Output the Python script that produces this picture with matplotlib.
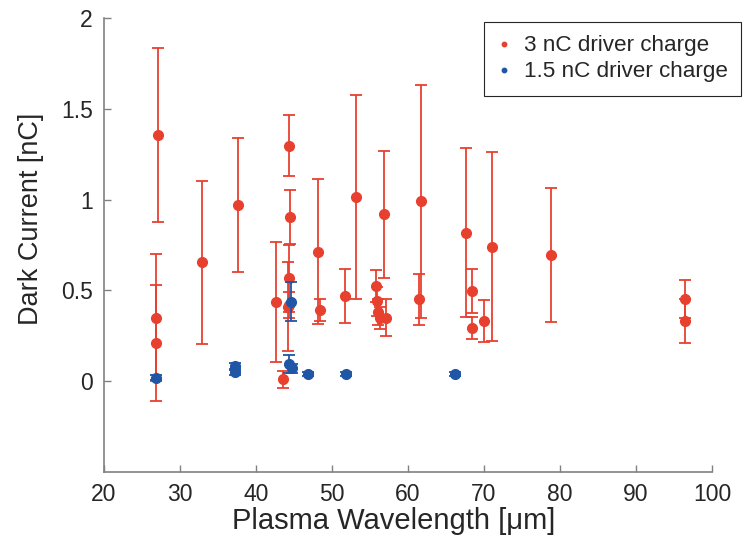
import numpy as np
import matplotlib.pyplot as plt

plt.rcParams['font.family'] = ['Liberation Sans', 'DejaVu Sans']

# 3 nC driver charge
x_3nc = [26.8, 26.8, 27.1, 32.9, 37.6, 42.6, 43.6, 44.3, 44.5, 44.4, 44.2, 44.3,
         48.1, 48.4, 51.7, 53.2, 55.8, 55.9, 56.0, 56.3, 56.9, 57.1, 61.4, 61.75,
         67.7, 68.4, 68.4, 70.0, 71.0, 78.8, 96.4, 96.4]
y_3nc = [0.35, 0.21, 1.355, 0.655, 0.97, 0.435, 0.01, 1.297, 0.905, 0.567, 0.41, 0.42,
         0.714, 0.39, 0.47, 1.015, 0.525, 0.44, 0.38, 0.35, 0.919, 0.35, 0.451, 0.99,
         0.818, 0.497, 0.293, 0.333, 0.74, 0.694, 0.455, 0.331]
err_3nc = [0.35, 0.32, 0.48, 0.45, 0.37, 0.33, 0.047, 0.167, 0.15, 0.185, 0.245, 0.07,
           0.40, 0.06, 0.15, 0.56, 0.09, 0.08, 0.07, 0.06, 0.35, 0.10, 0.14, 0.64,
           0.465, 0.12, 0.06, 0.115, 0.52, 0.37, 0.105, 0.12]

# 1.5 nC driver charge
x_15nc = [26.9, 37.2, 37.2, 44.3, 44.7, 44.6, 46.9, 51.8, 66.2]
y_15nc = [0.02, 0.083, 0.048, 0.096, 0.072, 0.438, 0.04, 0.04, 0.04]
err_15nc = [0.012, 0.015, 0.012, 0.05, 0.025, 0.107, 0.01, 0.01, 0.012]

red = '#E8402F'
blue = '#1F56A6'
axis_col = '#808080'
text_col = '#262626'

fig = plt.figure(figsize=(7.55, 5.38), dpi=100)
ax = fig.add_axes([0.1377, 0.1227, 0.943 - 0.1377, 0.9665 - 0.1227])

ax.errorbar(x_3nc, y_3nc, yerr=err_3nc, fmt='o', color=red, ms=7,
            elinewidth=1.3, capsize=4, capthick=1.3, zorder=2)
ax.errorbar(x_15nc, y_15nc, yerr=err_15nc, fmt='o', color=blue, ms=7,
            elinewidth=1.3, capsize=4, capthick=1.3, zorder=3)

# legend entries with small dots
h1, = ax.plot([], [], 'o', color=red, ms=3.2, label='3 nC driver charge')
h2, = ax.plot([], [], 'o', color=blue, ms=3.2, label='1.5 nC driver charge')
leg = ax.legend(handles=[h1, h2], loc='upper right',
                bbox_to_anchor=(741 / 755, 1 - 22 / 538),
                bbox_transform=fig.transFigure, fontsize=16.2, fancybox=False,
                framealpha=1, edgecolor='#262626', handlelength=0.6,
                handletextpad=0.55, borderpad=0.6, labelspacing=0.22,
                borderaxespad=0)
leg.get_frame().set_linewidth(0.8)
for t in leg.get_texts():
    t.set_color(text_col)

ax.set_xlim(20, 100)
ax.set_ylim(-0.5, 2)
ax.set_xticks(np.arange(20, 101, 10))
ax.set_yticks([0, 0.5, 1, 1.5, 2])
ax.set_yticklabels(['0', '0.5', '1', '1.5', '2'])

for s in ['top', 'right']:
    ax.spines[s].set_visible(False)
for s in ['left', 'bottom']:
    ax.spines[s].set_color(axis_col)
    ax.spines[s].set_linewidth(1.2)

ax.tick_params(direction='in', length=5, width=1, color=axis_col,
               labelsize=16.5, labelcolor=text_col, pad=8)

ax.set_xlabel('Plasma Wavelength [\u03bcm]', fontsize=21, color=text_col)
ax.set_ylabel('Dark Current [nC]', fontsize=19.5, color=text_col)
ax.xaxis.set_label_coords(0.477, -0.077)
ax.yaxis.set_label_coords(-0.099, 0.557)

fig.savefig('out.png', dpi=100)
